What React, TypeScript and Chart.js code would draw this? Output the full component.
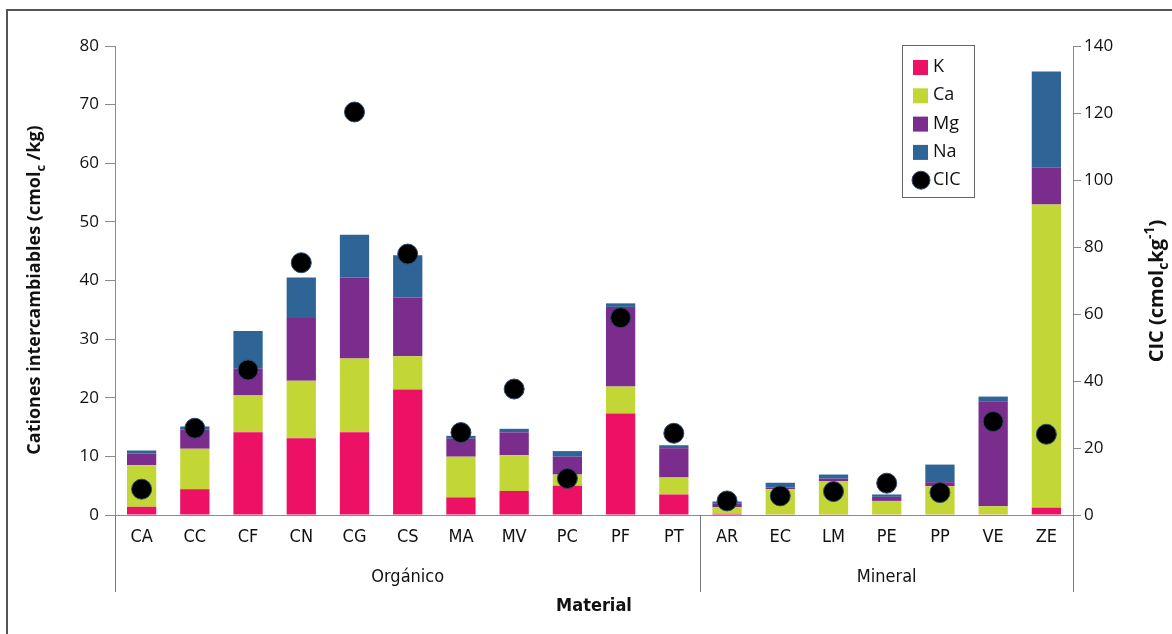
import React, { useEffect, useRef } from "react";
import { Chart, registerables } from "chart.js";

Chart.register(...registerables);

const categories = ["CA","CC","CF","CN","CG","CS","MA","MV","PC","PF","PT","AR","EC","LM","PE","PP","VE","ZE"];
const groups = [
  { label: "Orgánico", from: 0, to: 10 },
  { label: "Mineral", from: 11, to: 17 },
];
const kValues = [1.4,4.4,14.1,13.1,14.1,21.4,3.0,4.1,5.0,17.3,3.5,0.2,0.1,0.1,0.1,0.1,0.1,1.25];
const caValues = [7.1,6.9,6.3,9.8,12.6,5.7,6.95,6.1,1.9,4.6,2.9,1.1,4.3,5.7,2.3,4.8,1.4,51.7];
const mgValues = [2.0,3.3,4.6,10.7,13.8,10.0,3.05,3.9,3.05,13.6,5.0,0.7,0.3,0.4,0.7,0.7,17.9,6.3];
const naValues = [0.5,0.5,6.4,6.9,7.3,7.2,0.5,0.6,0.95,0.6,0.5,0.3,0.8,0.7,0.4,3.0,0.8,16.4];
const cicValues = [7.7,25.9,43.3,75.3,120.3,77.9,24.6,37.6,10.9,58.9,24.4,4.2,5.7,7.0,9.5,6.7,27.9,24.1];
const leftTicks = [0,10,20,30,40,50,60,70,80];
const rightTicks = [0,20,40,60,80,100,120,140];

const COLORS = { K: "#ec1164", Ca: "#c2d736", Mg: "#7b2d8e", Na: "#2e6496" };
const AXIS = "#8a8a8a";
const FONT = "'Open Sans', 'DejaVu Sans', sans-serif";
const NARROW = "'Liberation Sans Narrow', 'DejaVu Sans Condensed', 'Open Sans', sans-serif";

function drawSubText(ctx: CanvasRenderingContext2D, parts: { t: string; k?: "sub" | "sup" }[], x: number, y: number, size: number, align: "center" | "left") {
  const big = `bold ${size}px ${FONT}`;
  const small = `bold ${Math.round(size * 0.7)}px ${FONT}`;
  let total = 0;
  for (const p of parts) {
    ctx.font = p.k ? small : big;
    total += ctx.measureText(p.t).width;
  }
  let cx = align === "center" ? x - total / 2 : x;
  ctx.textBaseline = "middle";
  ctx.textAlign = "left";
  for (const p of parts) {
    ctx.font = p.k ? small : big;
    const dy = p.k === "sub" ? size * 0.35 : p.k === "sup" ? -size * 0.35 : 0;
    ctx.fillText(p.t, cx, y + dy);
    cx += ctx.measureText(p.t).width;
  }
}

const decorPlugin = {
  id: "decor",
  afterDraw(chart: any) {
    const ctx: CanvasRenderingContext2D = chart.ctx;
    const x = chart.scales.x;
    const area = chart.chartArea;
    ctx.save();
    // frame
    ctx.strokeStyle = "#555";
    ctx.lineWidth = 2;
    ctx.beginPath();
    ctx.moveTo(7, 634);
    ctx.lineTo(7, 10);
    ctx.lineTo(1172, 10);
    ctx.stroke();

    // group separators and labels
    ctx.strokeStyle = "#777";
    ctx.lineWidth = 1;
    const sepBottom = 592;
    const bounds = [area.left, (x.getPixelForValue(10) + x.getPixelForValue(11)) / 2, area.right];
    for (const b of bounds) {
      const bx = Math.round(b) + 0.5;
      ctx.beginPath();
      ctx.moveTo(bx, area.bottom);
      ctx.lineTo(bx, sepBottom);
      ctx.stroke();
    }
    ctx.fillStyle = "#111";
    ctx.font = `18px ${NARROW}`;
    ctx.textAlign = "center";
    ctx.textBaseline = "middle";
    for (const g of groups) {
      const cx = (x.getPixelForValue(g.from) + x.getPixelForValue(g.to)) / 2;
      ctx.fillText(g.label, cx, 577);
    }
    ctx.font = `bold 18px ${NARROW}`;
    ctx.fillText("Material", (area.left + area.right) / 2 - 0, 606);

    // left axis title
    ctx.save();
    ctx.translate(35, 290);
    ctx.rotate(-Math.PI / 2);
    ctx.fillStyle = "#111";
    drawSubText(ctx, [{ t: "Cationes intercambiables (cmol" }, { t: "c", k: "sub" }, { t: " /kg)" }], 0, 0, 18, "center");
    ctx.restore();

    // right axis title
    ctx.save();
    ctx.translate(1157, 291);
    ctx.rotate(-Math.PI / 2);
    ctx.fillStyle = "#111";
    drawSubText(ctx, [{ t: "CIC (cmol" }, { t: "c", k: "sub" }, { t: "kg" }, { t: "-1", k: "sup" }, { t: ")" }], 0, 0, 20, "center");
    ctx.restore();

    // legend
    const lx = 902, ly = 45, lw = 72, lh = 152;
    ctx.fillStyle = "#fff";
    ctx.fillRect(lx, ly, lw, lh);
    ctx.strokeStyle = "#666";
    ctx.lineWidth = 1;
    ctx.strokeRect(lx + 0.5, ly + 0.5, lw, lh);
    const items = chart.data.datasets.map((d: any) => d).sort((a: any, b: any) => a.legendIndex - b.legendIndex);
    ctx.font = `18px ${FONT}`;
    ctx.textAlign = "left";
    ctx.textBaseline = "middle";
    items.forEach((d: any, i: number) => {
      const yy = 67 + i * 28.3;
      if (d.type === "line") {
        ctx.beginPath();
        ctx.arc(921, yy, 9, 0, Math.PI * 2);
        ctx.fillStyle = "#000";
        ctx.fill();
        ctx.strokeStyle = "#2c4a6e";
        ctx.stroke();
      } else {
        ctx.fillStyle = d.backgroundColor;
        ctx.fillRect(913, yy - 7, 15, 15);
      }
      ctx.fillStyle = "#111";
      ctx.fillText(d.label, 933, yy);
    });
    ctx.restore();
  },
};

export default function App() {
  const ref = useRef<HTMLCanvasElement>(null);
  useEffect(() => {
    if (!ref.current) return;
    const bar = (label: string, data: number[], color: string, idx: number) => ({
      type: "bar" as const,
      label,
      data,
      backgroundColor: color,
      borderWidth: 0,
      yAxisID: "y",
      stack: "s",
      order: 2,
      legendIndex: idx,
      categoryPercentage: 1,
      barPercentage: 0.55,
    });
    const chart = new Chart(ref.current, {
      data: {
        labels: categories,
        datasets: [
          bar("K", kValues, COLORS.K, 0),
          bar("Ca", caValues, COLORS.Ca, 1),
          bar("Mg", mgValues, COLORS.Mg, 2),
          bar("Na", naValues, COLORS.Na, 3),
          {
            type: "line" as const,
            label: "CIC",
            data: cicValues,
            yAxisID: "y1",
            showLine: false,
            pointRadius: 10,
            pointBackgroundColor: "#000",
            pointBorderColor: "#2c4a6e",
            pointBorderWidth: 1,
            order: 0,
            legendIndex: 4,
          } as any,
        ],
      } as any,
      options: {
        responsive: false,
        animation: false,
        events: [],
        layout: { padding: { top: 46, left: 0, right: 0, bottom: 0 } },
        plugins: { legend: { display: false }, tooltip: { enabled: false } },
        scales: {
          x: {
            stacked: true,
            offset: true,
            grid: { display: false, drawTicks: false },
            border: { display: true, color: AXIS, width: 1 },
            ticks: { color: "#111", font: { family: NARROW, size: 18 }, padding: 12, autoSkip: false, maxRotation: 0 },
            afterFit: (s: any) => { s.height = 119; },
          },
          y: {
            stacked: true,
            position: "left",
            min: 0,
            max: 80,
            afterBuildTicks: (s: any) => { s.ticks = leftTicks.map((v) => ({ value: v })); },
            grid: { drawOnChartArea: false, drawTicks: true, tickLength: 10, color: AXIS },
            border: { display: true, color: AXIS, width: 1 },
            ticks: { color: "#111", font: { family: FONT, size: 17 }, padding: 6 },
            afterFit: (s: any) => { s.width = 115; },
          },
          y1: {
            position: "right",
            min: 0,
            max: 140,
            afterBuildTicks: (s: any) => { s.ticks = rightTicks.map((v) => ({ value: v })); },
            grid: { drawOnChartArea: false, drawTicks: true, tickLength: 8, color: AXIS },
            border: { display: true, color: AXIS, width: 1 },
            ticks: { color: "#111", font: { family: FONT, size: 17 }, padding: 3 },
            afterFit: (s: any) => { s.width = 99; },
          },
        },
      } as any,
      plugins: [decorPlugin],
    });
    return () => chart.destroy();
  }, []);
  return (
    <div style={{ position: "absolute", left: 0, top: 0, width: 1172, height: 634, background: "#fff" }}>
      <canvas ref={ref} width={1172} height={634} style={{ display: "block", width: 1172, height: 634 }} />
    </div>
  );
}
